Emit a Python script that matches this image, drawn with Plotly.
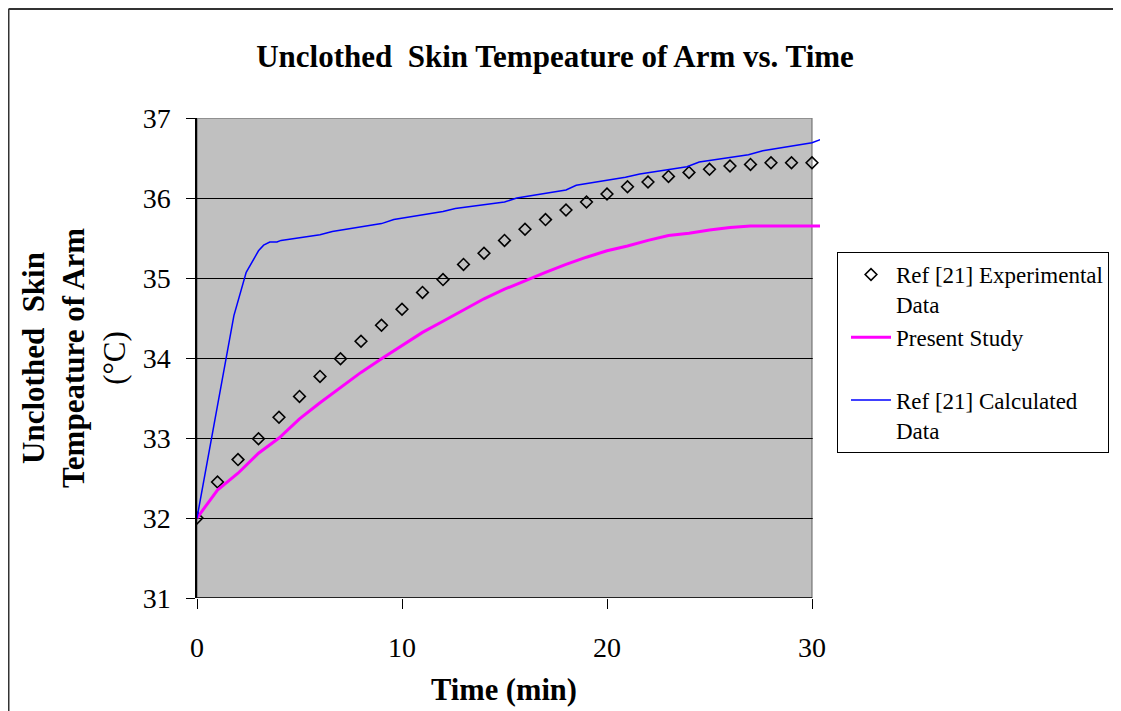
import plotly.graph_objects as go

# ---- data ----
exp_t = list(range(0, 31))
exp_temp = [32.00, 32.45, 32.73, 32.99, 33.26, 33.52, 33.77, 33.99, 34.21, 34.41,
            34.61, 34.82, 34.98, 35.17, 35.31, 35.47, 35.61, 35.73, 35.85, 35.95,
            36.05, 36.14, 36.20, 36.27, 36.32, 36.36, 36.40, 36.42, 36.44, 36.44, 36.44]

present_t = [0, 1, 2, 3, 4, 5, 6, 7, 8, 9, 10, 11, 12, 13, 14, 15, 16, 17, 18, 19,
             20, 21, 22, 23, 24, 25, 26, 27, 28, 29, 30, 30.4]
present_temp = [32.00, 32.35, 32.56, 32.81, 33.00, 33.24, 33.44, 33.63, 33.82, 33.99,
                34.15, 34.32, 34.46, 34.60, 34.74, 34.86, 34.97, 35.07, 35.17, 35.26,
                35.34, 35.40, 35.47, 35.53, 35.56, 35.60, 35.63, 35.65, 35.65, 35.65, 35.65, 35.65]

calc_t = [0, 1.8, 2.4, 3.0, 3.25, 3.55, 3.9, 4.1, 6.0, 6.6, 9.0, 9.6, 12.0, 12.6,
          15.0, 15.6, 18.0, 18.5, 20.9, 21.6, 23.9, 24.5, 26.9, 27.6, 30.0, 30.4]
calc_temp = [32.00, 34.53, 35.07, 35.34, 35.41, 35.45, 35.45, 35.47, 35.54, 35.58,
             35.68, 35.73, 35.83, 35.87, 35.95, 36.00, 36.10, 36.16, 36.26, 36.30,
             36.39, 36.45, 36.54, 36.59, 36.69, 36.73]

x_ticks = [0, 10, 20, 30]
y_ticks = [31, 32, 33, 34, 35, 36, 37]

FONT = "Liberation Serif, Times New Roman, serif"
X_MAX = 30
X_VIEW = 30.39
Y_MIN, Y_MAX = 31, 37

# page offset of the figure inside the html body (default 8px body margin)
OFF = 8
W, H = 1121 - OFF, 711 - OFF
PL, PR, PT, PB = 197 - OFF, 820 - OFF, 118 - OFF, 598 - OFF   # plot area in figure px
PW, PH = PR - PL, PB - PT


def px_x(page_x):
    return (page_x - OFF - PL) / PW


def px_y(page_y):
    return (PB - (page_y - OFF)) / PH


fig = go.Figure()

fig.add_trace(go.Scatter(
    x=exp_t, y=exp_temp, mode="markers", name="Ref [21] Experimental<br>Data",
    marker=dict(symbol="diamond-open", size=9, color="black", line=dict(width=1.6, color="black")),
))
fig.add_trace(go.Scatter(
    x=present_t, y=present_temp, mode="lines", name="Present Study<br> ",
    line=dict(color="#FF00FF", width=3),
))
fig.add_trace(go.Scatter(
    x=calc_t, y=calc_temp, mode="lines", name="Ref [21] Calculated<br>Data",
    line=dict(color="#0000FF", width=1.5),
))

frame_left = px_x(8.5)
frame_right = px_x(1120)
frame_top = px_y(9)

shapes = [
    # gray plot area
    dict(type="rect", xref="x", yref="y", x0=0, x1=X_MAX, y0=Y_MIN, y1=Y_MAX,
         fillcolor="#C0C0C0", line=dict(color="#808080", width=1.5), layer="below"),
    # cover gridline overhang beyond the plot area
    dict(type="rect", xref="x", yref="y", x0=X_MAX + 0.04, x1=X_VIEW + 0.2, y0=Y_MIN + 0.01, y1=Y_MAX + 0.05,
         fillcolor="white", line=dict(width=0), layer="between"),
    # bottom axis line
    dict(type="line", xref="x", yref="y", x0=0, x1=X_MAX, y0=Y_MIN, y1=Y_MIN,
         line=dict(color="black", width=1.5), layer="above"),
    # outer chart frame
    dict(type="line", xref="paper", yref="paper", x0=frame_left, x1=frame_left,
         y0=frame_top, y1=-0.4, line=dict(color="#333333", width=2)),
    dict(type="line", xref="paper", yref="paper", x0=frame_left, x1=frame_right,
         y0=frame_top, y1=frame_top, line=dict(color="#333333", width=2)),
    dict(type="line", xref="paper", yref="paper", x0=frame_right, x1=frame_right,
         y0=frame_top, y1=-0.4, line=dict(color="#D0D0D0", width=1)),
]

fig.update_layout(
    width=W, height=H,
    margin=dict(l=PL, r=W - PR, t=PT, b=H - PB, autoexpand=False),
    paper_bgcolor="white", plot_bgcolor="white",
    font=dict(family=FONT, color="black"),
    title=dict(text="<b>Unclothed  Skin Tempeature of Arm vs. Time</b>",
               x=(555 - OFF) / W, xanchor="center", xref="container",
               y=1 - (56 - OFF) / H, yanchor="middle", yref="container",
               font=dict(family=FONT, size=31, color="black")),
    xaxis=dict(range=[0, X_VIEW], tickvals=x_ticks, showgrid=False, zeroline=False,
               showline=False, ticks="outside", ticklen=10, tickwidth=1, tickcolor="black",
               tickfont=dict(family=FONT, size=28), ticklabelstandoff=14),
    yaxis=dict(range=[Y_MIN, Y_MAX], tickvals=y_ticks, showgrid=True, gridcolor="black",
               gridwidth=1, zeroline=False, showline=True, linecolor="black", linewidth=1.5,
               ticks="outside", ticklen=9, tickwidth=1, tickcolor="black",
               tickfont=dict(family=FONT, size=28), ticklabelstandoff=10),
    legend=dict(x=px_x(837), y=px_y(252), xanchor="left", yanchor="top",
                bgcolor="white", bordercolor="black", borderwidth=1,
                font=dict(family=FONT, size=23, color="black"), tracegroupgap=0,
                itemwidth=40, indentation=8, valign="top"),
    showlegend=True,
    shapes=shapes,
    annotations=[
        dict(text="<b>Time (min)</b>", xref="paper", yref="paper",
             x=px_x(504), y=px_y(690), xanchor="center", yanchor="middle",
             showarrow=False, font=dict(family=FONT, size=30.5, color="black")),
        dict(text="<b>Unclothed  Skin</b><br><b>Tempeature of Arm</b><br>(°C)",
             xref="paper", yref="paper", x=px_x(74), y=0.5,
             xanchor="center", yanchor="middle", textangle=-90, showarrow=False,
             font=dict(family=FONT, size=31, color="black")),
    ],
)

fig.write_html("out.html")
